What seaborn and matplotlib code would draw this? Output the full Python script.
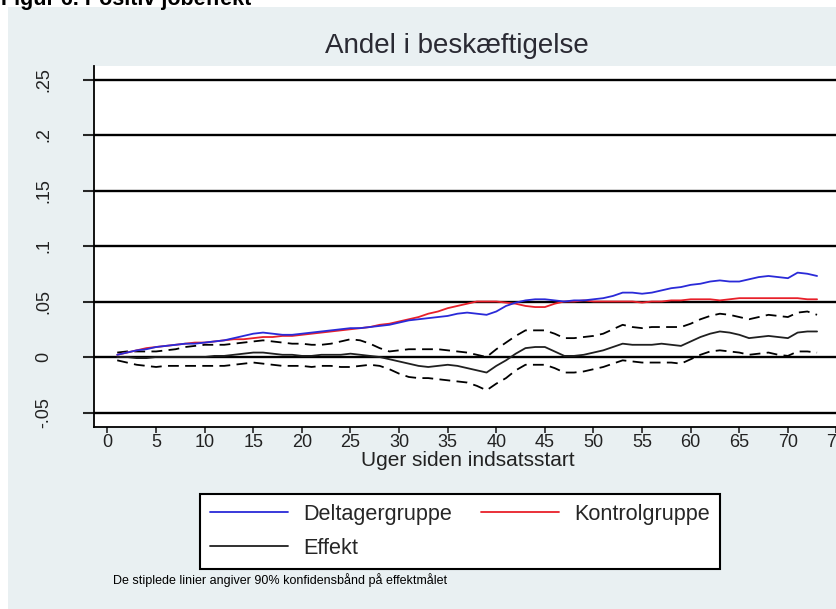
import numpy as np
import pandas as pd
import matplotlib
matplotlib.use("Agg")
import matplotlib.pyplot as plt
import seaborn as sns
from matplotlib.patches import Rectangle
from matplotlib.lines import Line2D

# ---------------- data ----------------
weeks = list(range(1, 74))

deltager = [0.002, 0.004, 0.006, 0.007, 0.009, 0.010, 0.011, 0.012, 0.012, 0.013,
            0.014, 0.015, 0.017, 0.019, 0.021, 0.022, 0.021, 0.020, 0.020, 0.021,
            0.022, 0.023, 0.024, 0.025, 0.026, 0.026, 0.027, 0.028, 0.029, 0.031,
            0.033, 0.034, 0.035, 0.036, 0.037, 0.039, 0.040, 0.039, 0.038, 0.041,
            0.046, 0.049, 0.051, 0.052, 0.052, 0.051, 0.050, 0.051, 0.051, 0.052,
            0.053, 0.055, 0.058, 0.058, 0.057, 0.058, 0.060, 0.062, 0.063, 0.065,
            0.066, 0.068, 0.069, 0.068, 0.068, 0.070, 0.072, 0.073, 0.072, 0.071,
            0.076, 0.075, 0.073]

kontrol = [0.002, 0.004, 0.006, 0.008, 0.009, 0.010, 0.011, 0.012, 0.013, 0.013,
           0.014, 0.015, 0.016, 0.016, 0.017, 0.018, 0.018, 0.019, 0.019, 0.020,
           0.021, 0.022, 0.023, 0.024, 0.025, 0.026, 0.027, 0.029, 0.030, 0.032,
           0.034, 0.036, 0.039, 0.041, 0.044, 0.046, 0.048, 0.050, 0.050, 0.050,
           0.049, 0.048, 0.046, 0.045, 0.045, 0.048, 0.050, 0.050, 0.051, 0.050,
           0.050, 0.050, 0.050, 0.050, 0.049, 0.050, 0.050, 0.051, 0.051, 0.052,
           0.052, 0.052, 0.051, 0.052, 0.053, 0.053, 0.053, 0.053, 0.053, 0.053,
           0.053, 0.052, 0.052]

effekt = [0.000, 0.000, -0.001, -0.001, 0.000, 0.000, 0.000, 0.000, 0.000, 0.000,
          0.001, 0.001, 0.002, 0.003, 0.004, 0.004, 0.003, 0.002, 0.002, 0.001,
          0.001, 0.002, 0.002, 0.002, 0.003, 0.002, 0.001, 0.000, -0.002, -0.004,
          -0.006, -0.008, -0.009, -0.008, -0.007, -0.008, -0.010, -0.012, -0.014, -0.008,
          -0.003, 0.003, 0.008, 0.009, 0.009, 0.005, 0.001, 0.001, 0.002, 0.004,
          0.006, 0.009, 0.012, 0.011, 0.011, 0.011, 0.012, 0.011, 0.010, 0.014,
          0.018, 0.021, 0.023, 0.022, 0.020, 0.017, 0.018, 0.019, 0.018, 0.017,
          0.022, 0.023, 0.023]

ci_upper = [0.004, 0.005, 0.005, 0.005, 0.005, 0.006, 0.007, 0.009, 0.010, 0.011,
            0.011, 0.011, 0.012, 0.013, 0.014, 0.015, 0.014, 0.013, 0.012, 0.012,
            0.011, 0.011, 0.012, 0.014, 0.016, 0.015, 0.012, 0.008, 0.005, 0.006,
            0.007, 0.007, 0.007, 0.007, 0.006, 0.005, 0.004, 0.002, 0.000, 0.007,
            0.013, 0.019, 0.024, 0.024, 0.024, 0.021, 0.017, 0.017, 0.018, 0.019,
            0.021, 0.025, 0.029, 0.027, 0.026, 0.027, 0.027, 0.027, 0.027, 0.030,
            0.034, 0.037, 0.039, 0.038, 0.036, 0.034, 0.036, 0.038, 0.037, 0.036,
            0.040, 0.041, 0.038]

ci_lower = [-0.003, -0.005, -0.007, -0.008, -0.009, -0.008, -0.008, -0.008, -0.008, -0.008,
            -0.008, -0.008, -0.007, -0.006, -0.005, -0.006, -0.007, -0.008, -0.008, -0.008,
            -0.009, -0.008, -0.008, -0.009, -0.009, -0.008, -0.007, -0.008, -0.011, -0.015,
            -0.018, -0.019, -0.019, -0.020, -0.021, -0.022, -0.023, -0.026, -0.030, -0.024,
            -0.019, -0.012, -0.007, -0.007, -0.007, -0.010, -0.014, -0.014, -0.013, -0.011,
            -0.009, -0.006, -0.003, -0.004, -0.005, -0.005, -0.005, -0.005, -0.006, -0.002,
            0.002, 0.005, 0.006, 0.005, 0.004, 0.002, 0.003, 0.004, 0.002, 0.001,
            0.005, 0.005, 0.004]

x_ticks = list(range(0, 80, 5))
y_ticks = [-0.05, 0, 0.05, 0.1, 0.15, 0.2, 0.25]
y_ticklabels = ["-.05", "0", ".05", ".1", ".15", ".2", ".25"]

title = "Andel i beskæftigelse"
x_label = "Uger siden indsatsstart"
fig_title = "Figur 6. Positiv jobeffekt"
note = "De stiplede linier angiver 90% konfidensbånd på effektmålet"
legend_labels = ["Deltagergruppe", "Kontrolgruppe", "Effekt"]

# ---------------- figure ----------------
W, H = 837, 609
DPI = 100
sns.set_theme(style="white")
plt.rcParams["font.family"] = ["Liberation Sans", "DejaVu Sans"]

fig = plt.figure(figsize=(W / DPI, H / DPI), dpi=DPI, facecolor="white")

BG = "#e9f0f2"
bg = Rectangle((8 / W, 0), 1 - 8 / W, 1 - 7 / H, transform=fig.transFigure,
               facecolor=BG, edgecolor="none", zorder=-10)
fig.add_artist(bg)

# axes placement (pixels)
px0 = 107.5          # pixel of x=0
ppu_x = 9.72         # pixels per week
py0 = 357.0          # pixel (from top) of y=0
ppu_y = 1110.0       # pixels per unit
ax_left_px, ax_top_px, ax_bottom_px = 94, 66, 427
xlim = ((ax_left_px - px0) / ppu_x, 75.5)
ax_right_px = px0 + xlim[1] * ppu_x
ylim = (-(ax_bottom_px - py0) / ppu_y, (py0 - ax_top_px) / ppu_y)

ax = fig.add_axes([ax_left_px / W, 1 - ax_bottom_px / H,
                   (ax_right_px - ax_left_px) / W, (ax_bottom_px - ax_top_px) / H])
ax.set_zorder(1)
ax.set_facecolor("white")

df = pd.DataFrame({"week": weeks, "Deltagergruppe": deltager,
                   "Kontrolgruppe": kontrol, "Effekt": effekt,
                   "upper": ci_upper, "lower": ci_lower})

for yv in y_ticks:
    ax.axhline(yv, color="black", lw=1.7, zorder=1)

lw = 1.3
dash = (0, (6, 3.5))
sns.lineplot(data=df, x="week", y="upper", ax=ax, color="black", lw=lw,
             linestyle=dash, zorder=3)
sns.lineplot(data=df, x="week", y="lower", ax=ax, color="black", lw=lw,
             linestyle=dash, zorder=3)
sns.lineplot(data=df, x="week", y="Effekt", ax=ax, color="#202020", lw=lw, zorder=4)
sns.lineplot(data=df, x="week", y="Kontrolgruppe", ax=ax, color="#e8202a", lw=lw, zorder=5)
sns.lineplot(data=df, x="week", y="Deltagergruppe", ax=ax, color="#2a2ad8", lw=lw, zorder=6)

ax.set_xlim(*xlim)
ax.set_ylim(*ylim)
ax.set_xticks(x_ticks)
ax.set_xticklabels([str(t) for t in x_ticks], fontsize=13, color="#222222")
ax.set_yticks(y_ticks)
ax.set_yticklabels(y_ticklabels, fontsize=13, rotation=90, va="center", color="#222222")
ax.tick_params(axis="x", direction="out", length=4, width=1.2, pad=1, bottom=True)
ax.tick_params(axis="y", direction="out", length=8, width=1.5, pad=22, left=True)
ax.set_xlabel(x_label, fontsize=15, color="#222222", labelpad=0)
ax.set_ylabel("")

for s in ["top", "right"]:
    ax.spines[s].set_visible(False)
for s in ["left", "bottom"]:
    ax.spines[s].set_color("black")
    ax.spines[s].set_linewidth(1.3)

fig.text(457 / W, 1 - 46 / H, title, ha="center", va="center", fontsize=20, color="#2a2a33")
fig.text(1 / W, 1 - 5 / H, fig_title, ha="left", va="baseline", fontsize=15.5,
         fontweight="bold", color="black")
fig.text(113 / W, 1 - 580 / H, note, ha="left", va="center", fontsize=9, color="black")

handles = [Line2D([], [], color="#2a2ad8", lw=lw),
           Line2D([], [], color="#202020", lw=lw),
           Line2D([], [], color="#e8202a", lw=lw)]
labels = [legend_labels[0], legend_labels[2], legend_labels[1]]
leg = fig.legend(handles, labels, ncol=2, loc="upper left",
                 bbox_to_anchor=(200 / W, 1 - 494 / H), bbox_transform=fig.transFigure,
                 fontsize=15.6, frameon=True, fancybox=False, edgecolor="black",
                 facecolor="white", framealpha=1, handlelength=3.6, handletextpad=0.7,
                 columnspacing=1.35, borderpad=0.45, labelspacing=0.6, borderaxespad=0)
leg.get_frame().set_linewidth(1.5)

fig.savefig("out.png", dpi=DPI, facecolor=fig.get_facecolor())
